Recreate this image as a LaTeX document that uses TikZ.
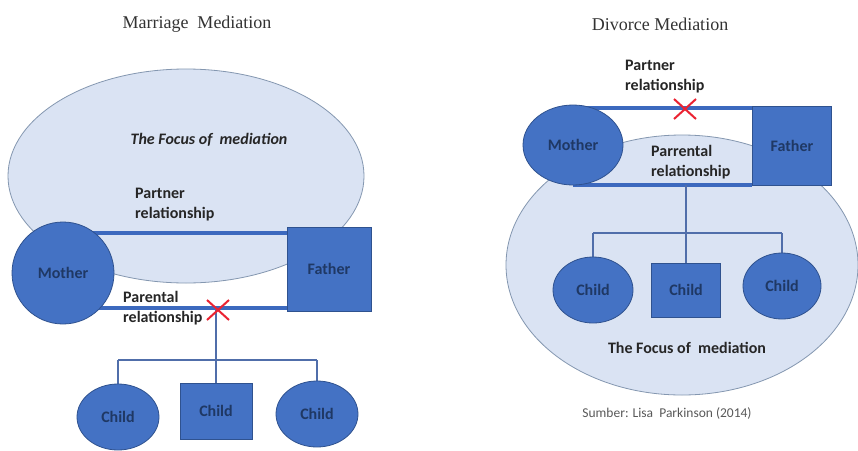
\documentclass[tikz,border=0pt]{standalone}
\usepackage{fontspec}
\setmainfont{Carlito}
\newfontfamily\ttlfont{Liberation Serif}
\usetikzlibrary{shapes.geometric}
\definecolor{shapefill}{RGB}{68,114,196}
\definecolor{shapeedge}{RGB}{47,82,143}
\definecolor{shapetext}{RGB}{31,56,100}
\definecolor{focusfill}{RGB}{218,227,243}
\definecolor{focusedge}{RGB}{132,151,176}
\definecolor{relline}{RGB}{60,105,190}
\definecolor{branchline}{RGB}{80,110,170}
\definecolor{crossred}{RGB}{235,35,50}
\definecolor{srcgray}{RGB}{89,89,89}
\definecolor{lbltext}{RGB}{38,38,38}
\pgfdeclarelayer{back}\pgfdeclarelayer{mid}\pgfsetlayers{back,mid,main}
\begin{document}
\begin{tikzpicture}[x=1pt,y=-1pt,
 focus/.style={ellipse, draw=focusedge, fill=focusfill, line width=0.8pt, inner sep=0},
 person/.style={fill=shapefill, draw=shapeedge, line width=0.8pt, inner sep=0, text=shapetext, font=\fontsize{16}{19}\selectfont\bfseries},
 roundp/.style={person, ellipse},
 squarep/.style={person, rectangle},
 lbl/.style={font=\fontsize{16}{20}\selectfont\bfseries, align=left, inner sep=0, text=lbltext},
 rel/.style={draw=relline, line width=3.2pt},
 branch/.style={draw=branchline, line width=1.5pt},
 cross/.style={draw=crossred, line width=2pt},
 ttl/.style={font=\ttlfont\fontsize{18}{20}\selectfont, text=black!80, inner sep=0}]
\useasboundingbox (0,0) rectangle (858,450);
\begin{pgfonlayer}{back}
\fill[white] (0,0) rectangle (858,450);
\end{pgfonlayer}

% ---------------- Marriage Mediation ----------------
\node[ttl] (t1) at (197,24) {Marriage\ \ Mediation};
\begin{pgfonlayer}{back}
\node[focus, minimum width=356pt, minimum height=214pt] (f1) at (186,176) {};
\end{pgfonlayer}
\node[lbl, font=\fontsize{16}{20}\selectfont\bfseries\itshape] (fl1) at (209,140) {The Focus of\ \ mediation};
\node[lbl, anchor=west] (pr1) at (135,205) {Partner\\relationship};
\node[roundp, minimum width=102pt, minimum height=102pt] (m1) at (63,273) {Mother};
\node[squarep, minimum width=84pt, minimum height=84pt] (fa1) at (329,269) {Father};
\node[lbl, anchor=west] (pa1) at (123,308) {Parental\\relationship};
\node[roundp, minimum width=82pt, minimum height=66pt] (c11) at (118,417) {Child};
\node[squarep, minimum width=72pt, minimum height=56pt] (c12) at (216,411) {Child};
\node[roundp, minimum width=82pt, minimum height=66pt] (c13) at (317,414) {Child};
\coordinate (j1) at (216,308);
\coordinate (b1) at (216,360);
\begin{pgfonlayer}{mid}
\draw[rel] (m1.center |- 0,233) -- (fa1.west |- 0,233);
\draw[rel] (m1.center |- 0,308) -- (fa1.west |- 0,308);
\draw[branch] (j1) -- (b1);
\draw[branch] (c11.north |- b1) -- (c13.north |- b1);
\draw[branch] (c11.north |- b1) -- (c11.north);
\draw[branch] (b1) -- (c12.north);
\draw[branch] (c13.north |- b1) -- (c13.north);
\end{pgfonlayer}
\coordinate (x1) at (218,310);
\draw[cross] ([shift={(-11,-10)}]x1) -- ([shift={(11,10)}]x1);
\draw[cross] ([shift={(-11,10)}]x1) -- ([shift={(11,-10)}]x1);

% ---------------- Divorce Mediation ----------------
\node[ttl] (t2) at (660,24) {Divorce Mediation};
\begin{pgfonlayer}{back}
\fill[white] (593,108) rectangle (753,185);
\node[focus, minimum width=352pt, minimum height=260pt] (f2) at (682,265) {};
\end{pgfonlayer}
\node[lbl, anchor=west] (pr2) at (625,77) {Partner\\relationship};
\node[roundp, minimum width=100pt, minimum height=80pt] (m2) at (573,145) {Mother};
\node[squarep, minimum width=79pt, minimum height=79pt] (fa2) at (792,146) {Father};
\node[lbl, anchor=west] (pa2) at (651,162) {Parrental\\relationship};
\node[roundp, minimum width=80pt, minimum height=66pt] (c21) at (593,290) {Child};
\node[squarep, minimum width=69pt, minimum height=54pt] (c22) at (686,290) {Child};
\node[roundp, minimum width=78pt, minimum height=66pt] (c23) at (782,286) {Child};
\node[lbl] (fl2) at (687,348) {The Focus of\ \ mediation};
\node[font=\fontsize{13.5}{15}\selectfont, text=srcgray, inner sep=0] (src) at (667,413) {Sumber: Lisa\ \ Parkinson (2014)};
\coordinate (j2) at (686,185);
\coordinate (b2) at (686,233);
\begin{pgfonlayer}{mid}
\draw[rel] (m2.center |- 0,108) -- (fa2.west |- 0,108);
\draw[rel] (m2.center |- 0,185) -- (fa2.west |- 0,185);
\draw[branch] (j2) -- (b2);
\draw[branch] (c21.north |- b2) -- (c23.north |- b2);
\draw[branch] (c21.north |- b2) -- (c21.north);
\draw[branch] (b2) -- (c22.north);
\draw[branch] (c23.north |- b2) -- (c23.north);
\end{pgfonlayer}
\coordinate (x2) at (685,109);
\draw[cross] ([shift={(-11,-10)}]x2) -- ([shift={(11,10)}]x2);
\draw[cross] ([shift={(-11,10)}]x2) -- ([shift={(11,-10)}]x2);
\end{tikzpicture}
\end{document}
